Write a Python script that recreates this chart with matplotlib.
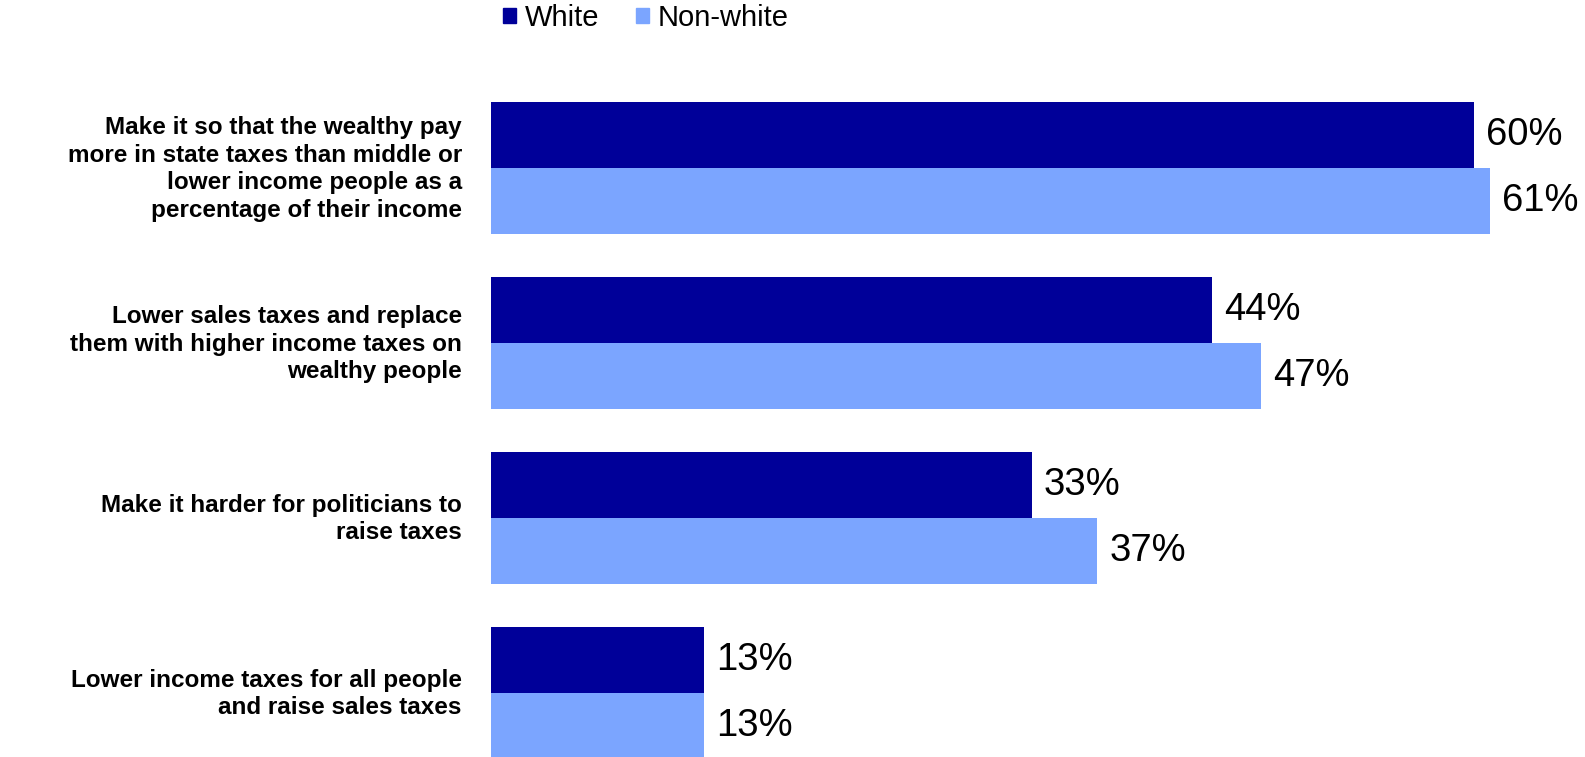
import matplotlib
matplotlib.use("Agg")
import matplotlib.pyplot as plt
from matplotlib.patches import Patch
import numpy as np

plt.rcParams["font.family"] = ["Liberation Sans", "DejaVu Sans"]

categories = [
    "Make it so that the wealthy pay\nmore in state taxes than middle or\nlower income people as a\npercentage of their income",
    "Lower sales taxes and replace\nthem with higher income taxes on\nwealthy people",
    "Make it harder for politicians to\nraise taxes",
    "Lower income taxes for all people\nand raise sales taxes",
]
white = [60, 44, 33, 13]
non_white = [61, 47, 37, 13]
series_names = ["White", "Non-white"]
colors = ["#000099", "#7BA5FF"]

W, H = 1585, 757
fig = plt.figure(figsize=(W / 100, H / 100), dpi=100)
left_px, px_per_unit = 491, 16.38
xmax = 66
ax = fig.add_axes([left_px / W, -0.0079, xmax * px_per_unit / W, 0.9016])

y = np.arange(len(categories))
h = 0.375
ax.barh(y - h / 2, white, height=h, color=colors[0])
ax.barh(y + h / 2, non_white, height=h, color=colors[1])

for yi, v in zip(y - h / 2, white):
    ax.text(v + 0.75, yi, f"{v}%", va="center", ha="left", fontsize=27.5)
for yi, v in zip(y + h / 2, non_white):
    ax.text(v + 0.75, yi, f"{v}%", va="center", ha="left", fontsize=27.5)

ax.set_xlim(0, xmax)
ax.set_ylim(3.4, -0.5)
ax.set_yticks(y - 0.02)
ax.set_yticklabels(categories, fontsize=17.5, fontweight="bold", linespacing=1.25)
ax.tick_params(axis="y", length=0, pad=21)
ax.set_xticks([])
for s in ax.spines.values():
    s.set_visible(False)

handles = [Patch(color=c) for c in colors]
fig.legend(handles, series_names, loc="center left", bbox_to_anchor=(503 / W, 1 - 18 / H),
           ncol=2, frameon=False, fontsize=21, handlelength=0.45, handleheight=0.45,
           handletextpad=0.3, columnspacing=1.25, borderaxespad=0, borderpad=0)

fig.savefig("out.png", dpi=100)
